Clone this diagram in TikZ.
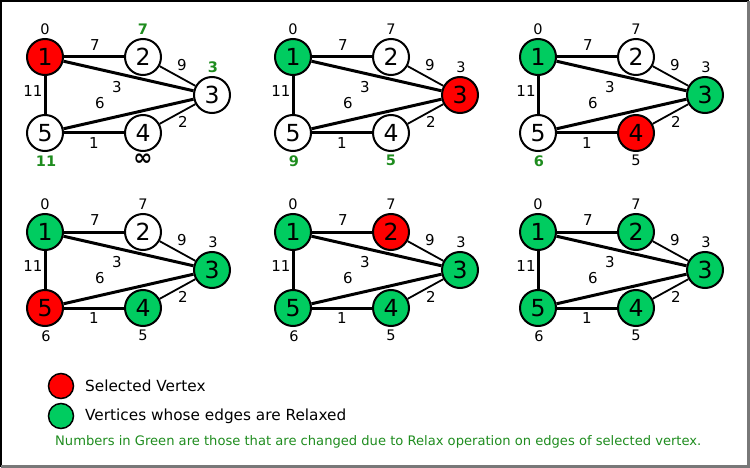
\documentclass[tikz,border=0pt]{standalone}
\usepackage{fontspec}
\setmainfont{DejaVu Sans}

\definecolor{selred}{RGB}{255,0,0}
\definecolor{donegreen}{RGB}{0,204,96}
\definecolor{newgreen}{RGB}{30,140,30}
\definecolor{framegray}{RGB}{120,120,120}

\newcommand{\nw}[1]{\textbf{\color{newgreen}#1}}
\newcommand{\inft}{{\fontsize{23}{23}\selectfont\textbf{∞}}}

\tikzset{
	vert/.style={circle, draw, line width=2pt, minimum size=36pt, inner sep=0pt, font=\fontsize{23.5}{23.5}\selectfont},
	openv/.style={vert, fill=white},
	selv/.style={vert, fill=selred},
	donev/.style={vert, fill=donegreen},
	keyv/.style={circle, draw, line width=1.5pt, minimum size=25pt, inner sep=0pt},
	wt/.style={font=\fontsize{15}{15}\selectfont, inner sep=0pt},
	dist/.style={font=\fontsize{14.5}{14.5}\selectfont, inner sep=0pt},
	keytext/.style={font=\fontsize{15.3}{15.3}\selectfont, anchor=west, inner sep=0pt},
	heavy/.style={line width=3pt},
	light/.style={line width=1.8pt}
}

\begin{document}
\begin{tikzpicture}[x=1pt, y=-1pt]
	\useasboundingbox (0,0) rectangle (750,468);
	\draw[line width=2pt] (1,467) -- (1,1) -- (749,1);
	\draw[framegray, line width=3pt] (748.5,1) -- (748.5,466.5) -- (1,466.5);

	\foreach \p/\sx/\sy/\fa/\fb/\fc/\fd/\fe/\da/\db/\dc/\dd/\de in {
		a/0/0/selv/openv/openv/openv/openv/0/{\nw{7}}/{\nw{3}}/{\inft}/{\nw{11}},
		b/248/0/donev/openv/selv/openv/openv/0/7/3/{\nw{5}}/{\nw{9}},
		c/493/0/donev/openv/donev/selv/openv/0/7/3/5/{\nw{6}},
		d/0/175/donev/openv/donev/donev/selv/0/7/3/5/6,
		e/248/175/donev/selv/donev/donev/donev/0/7/3/5/6,
		f/493/175/donev/donev/donev/donev/donev/0/7/3/5/6}
	{
		\begin{scope}[shift={(\sx,\sy)}]
		\node[\fa] (\p1) at (45,57) {1};
		\node[\fb] (\p2) at (143,57) {2};
		\node[\fc] (\p3) at (212,95) {3};
		\node[\fd] (\p4) at (143,133) {4};
		\node[\fe] (\p5) at (45,133) {5};

		\draw[heavy] (\p1) -- (\p2);
		\draw[heavy] (\p1) -- (\p3);
		\draw[heavy] (\p1) -- (\p5);
		\draw[heavy] (\p5) -- (\p3);
		\draw[heavy] (\p5) -- (\p4);
		\draw[light] (\p2) -- (\p3);
		\draw[light] (\p4) -- (\p3);

		\node[wt] (\p-w12) at (95,45) {7};
		\node[wt] (\p-w23) at (182,65) {9};
		\node[wt] (\p-w13) at (117,87) {3};
		\node[wt] (\p-w53) at (100,103) {6};
		\node[wt] (\p-w15) at (33,91) {11};
		\node[wt] (\p-w43) at (183,122) {2};
		\node[wt] (\p-w54) at (94,143) {1};

		\node[dist] (\p-d1) at (45,29) {\da};
		\node[dist] (\p-d2) at (143,29) {\db};
		\node[dist] (\p-d3) at (213,67) {\dc};
		\node[dist] (\p-d4) at (143,160) {\dd};
		\node[dist] (\p-d5) at (46,161) {\de};
		\end{scope}
	}

	% legend
	\node[keyv, fill=selred] (keysel) at (61,386) {};
	\node[keyv, fill=donegreen] (keydone) at (61,416) {};
	\node[keytext] (keyseltext) at (85,386) {Selected Vertex};
	\node[keytext] (keydonetext) at (85,416) {Vertices whose edges are Relaxed};
	\node[keytext, font=\fontsize{13.1}{13.1}\selectfont, text=newgreen] (note) at (55,442)
		{Numbers in Green are those that are changed due to Relax operation on edges of selected vertex.};
\end{tikzpicture}
\end{document}
